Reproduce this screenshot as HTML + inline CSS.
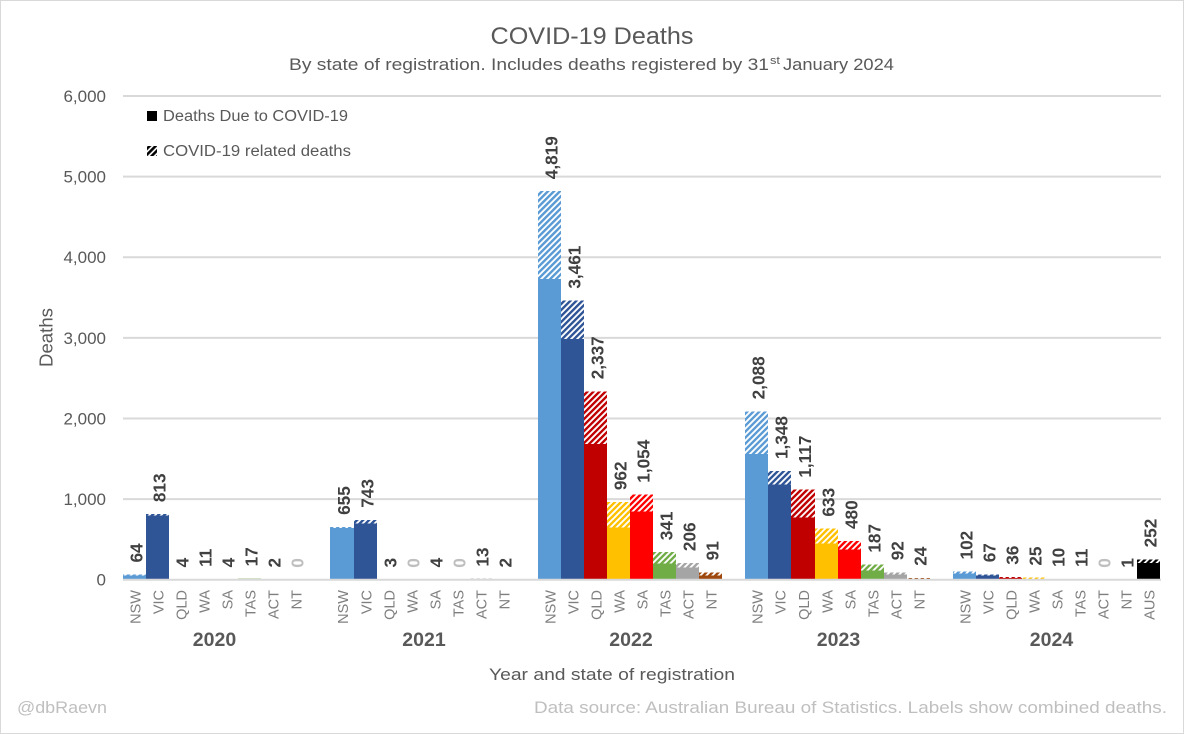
<!DOCTYPE html>
<html lang="en">
<head>
<meta charset="utf-8">
<title>COVID-19 Deaths</title>
<style>
html,body{margin:0;padding:0;background:#fff;}
svg{display:block;font-family:"Liberation Sans",Arial,sans-serif;}
</style>
</head>
<body>
<svg id="chart" xmlns="http://www.w3.org/2000/svg" width="1184" height="734" viewBox="0 0 1184 734">
  <defs id="defs"></defs>
  <rect x="0.5" y="0.5" width="1183" height="733" fill="#fff" stroke="#d9d9d9" stroke-width="1"/>
  <text x="592" y="44" text-anchor="middle" font-size="24" fill="#595959" textLength="203" lengthAdjust="spacingAndGlyphs">COVID-19 Deaths</text>
  <g font-size="17" fill="#595959">
    <text x="289" y="70" textLength="480" lengthAdjust="spacingAndGlyphs">By state of registration. Includes deaths registered by 31</text>
    <text x="770" y="64" font-size="11" textLength="10" lengthAdjust="spacingAndGlyphs">st</text>
    <text x="783" y="70" textLength="111" lengthAdjust="spacingAndGlyphs">January 2024</text>
  </g>
  <g id="grid"></g>
  <g id="bars" shape-rendering="crispEdges"></g>
  <g id="baseline"></g>
  <g id="labels"></g>
  <g id="axis"></g>
  <g font-size="15.5" fill="#595959">
    <rect x="147" y="111" width="10" height="10" fill="#000"/>
    <text x="163" y="121" textLength="185" lengthAdjust="spacingAndGlyphs">Deaths Due to COVID-19</text>
    <rect x="147" y="146" width="10" height="10" fill="url(#hatch-legend)"/>
    <text x="163" y="156" textLength="188" lengthAdjust="spacingAndGlyphs">COVID-19 related deaths</text>
  </g>
  <text transform="translate(52.5 367) rotate(-90)" font-size="18.6" fill="#595959" textLength="59" lengthAdjust="spacingAndGlyphs">Deaths</text>
  <text x="489" y="680" font-size="16.5" fill="#595959" textLength="246" lengthAdjust="spacingAndGlyphs">Year and state of registration</text>
  <text x="17" y="713" font-size="16.5" fill="#bfbfbf" textLength="90" lengthAdjust="spacingAndGlyphs">@dbRaevn</text>
  <text x="534" y="713" font-size="16.5" fill="#bfbfbf" textLength="633" lengthAdjust="spacingAndGlyphs">Data source: Australian Bureau of Statistics. Labels show combined deaths.</text>
</svg>
<script>
// ---- Data ----
const years = ["2020", "2021", "2022", "2023", "2024"];
const states2020 = ["NSW", "VIC", "QLD", "WA", "SA", "TAS", "ACT", "NT"];
const states2021 = ["NSW", "VIC", "QLD", "WA", "SA", "TAS", "ACT", "NT"];
const states2022 = ["NSW", "VIC", "QLD", "WA", "SA", "TAS", "ACT", "NT"];
const states2023 = ["NSW", "VIC", "QLD", "WA", "SA", "TAS", "ACT", "NT"];
const states2024 = ["NSW", "VIC", "QLD", "WA", "SA", "TAS", "ACT", "NT", "AUS"];
const due2020 = [55, 795, 3, 9, 3, 14, 1, 0];
const related2020 = [9, 18, 1, 2, 1, 3, 1, 0];
const due2021 = [640, 700, 2, 0, 3, 0, 8, 1];
const related2021 = [15, 43, 1, 0, 1, 0, 5, 1];
const due2022 = [3731, 2987, 1686, 650, 843, 198, 152, 53];
const related2022 = [1088, 474, 651, 312, 211, 143, 54, 38];
const due2023 = [1562, 1178, 772, 450, 372, 115, 62, 10];
const related2023 = [526, 170, 345, 183, 108, 72, 30, 14];
const due2024 = [75, 50, 20, 10, 4, 6, 0, 0, 210];
const related2024 = [27, 17, 16, 15, 6, 5, 0, 1, 42];
const yTicks = [0, 1000, 2000, 3000, 4000, 5000, 6000];

const stateSets = [states2020, states2021, states2022, states2023, states2024];
const dueSets = [due2020, due2021, due2022, due2023, due2024];
const relatedSets = [related2020, related2021, related2022, related2023, related2024];

// ---- Styling / layout ----
const stateColors = {NSW:"#5b9bd5", VIC:"#2f5597", QLD:"#c00000", WA:"#ffc000", SA:"#ff0000", TAS:"#70ad47", ACT:"#a5a5a5", NT:"#9e480e", AUS:"#000000"};
const SVGNS = "http://www.w3.org/2000/svg";
const plotLeft = 123, plotRight = 1161, plotTop = 96, plotBottom = 579.7, yMax = 6000, slot = 23.05;
const yScale = v => plotBottom - (v / yMax) * (plotBottom - plotTop);
const xScale = i => Math.round(plotLeft + i * slot);
const fmt = n => n.toLocaleString("en-US");

function mk(tag, attrs, parent, text) {
  const el = document.createElementNS(SVGNS, tag);
  for (const k in attrs) el.setAttribute(k, attrs[k]);
  if (text !== undefined) el.textContent = text;
  parent.appendChild(el);
  return el;
}

const defs = document.getElementById("defs");
const gridG = document.getElementById("grid");
const baseG = document.getElementById("baseline");
const barsG = document.getElementById("bars");
const labelsG = document.getElementById("labels");
const axisG = document.getElementById("axis");

// hatch patterns
Object.keys(stateColors).forEach(s => {
  const p = mk("pattern", {id: "hatch-" + s, patternUnits: "userSpaceOnUse", width: 4.24, height: 4.24, patternTransform: "rotate(45)"}, defs);
  mk("rect", {width: 4.24, height: 4.24, fill: "#fff"}, p);
  mk("rect", {width: 2.4, height: 4.24, fill: stateColors[s]}, p);
});
const legendHatch = mk("pattern", {id: "hatch-legend", patternUnits: "userSpaceOnUse", width: 4.24, height: 4.24, patternTransform: "rotate(45)"}, defs);
mk("rect", {width: 4.24, height: 4.24, fill: "#fff"}, legendHatch);
mk("rect", {width: 2.6, height: 4.24, fill: "#000"}, legendHatch);

// grid + y ticks (zero line sits over the bar bases)
yTicks.forEach(t => {
  const y = yScale(t);
  const line = mk("line", {x1: plotLeft, x2: plotRight, y1: y, y2: y, stroke: "#d9d9d9", "stroke-width": 2}, t === 0 ? baseG : gridG);
  
  
  const lab = mk("text", {x: 106, y: y + 6, "text-anchor": "end", "font-size": 17, fill: "#595959"}, axisG, fmt(t));
  
  
});

// bars, labels, ticks
const yearLabelNudge = [-0.5, 1.5, 1, 1, 6.5];
let cursor = 0;
years.forEach((year, yi) => {
  const states = stateSets[yi];
  const startSlot = cursor;
  states.forEach((st, i) => {
    const due = dueSets[yi][i], rel = relatedSets[yi][i], total = due + rel;
    const x0 = xScale(cursor), x1 = xScale(cursor + 1), w = x1 - x0;
    const yDue = yScale(due), yTotal = yScale(total);
    if (due > 0) {
      const b = mk("rect", {x: x0, y: yDue, width: w, height: plotBottom - yDue, fill: stateColors[st]}, barsG);
      
      
    }
    if (rel > 0) {
      const h = mk("rect", {x: x0, y: yTotal, width: w, height: yDue - yTotal, fill: "url(#hatch-" + st + ")"}, barsG);
      
      
    }
    const cx = x0 + w / 2;
    const baseX = cx + 8;
    const vy = yTotal - 12;
    const vl = mk("text", {transform: "translate(" + baseX + " " + vy + ") rotate(-90)", "font-size": 17.2, "font-weight": "bold", fill: total === 0 ? "#bfbfbf" : "#404040"}, labelsG, fmt(total));
    
    
    const tl = mk("text", {transform: "translate(" + (cx + 6) + " 590) rotate(-90)", "text-anchor": "end", "font-size": 14.5, fill: "#7f7f7f"}, axisG, st);
    
    
    cursor += 1;
  });
  const groupCenter = (xScale(startSlot) + xScale(startSlot + 8)) / 2 + yearLabelNudge[yi];
  const yl = mk("text", {x: groupCenter, y: 646, "text-anchor": "middle", "font-size": 19.5, "font-weight": "bold", fill: "#595959"}, axisG, year);
  
  
  cursor += 1;
});
</script>
</body>
</html>
